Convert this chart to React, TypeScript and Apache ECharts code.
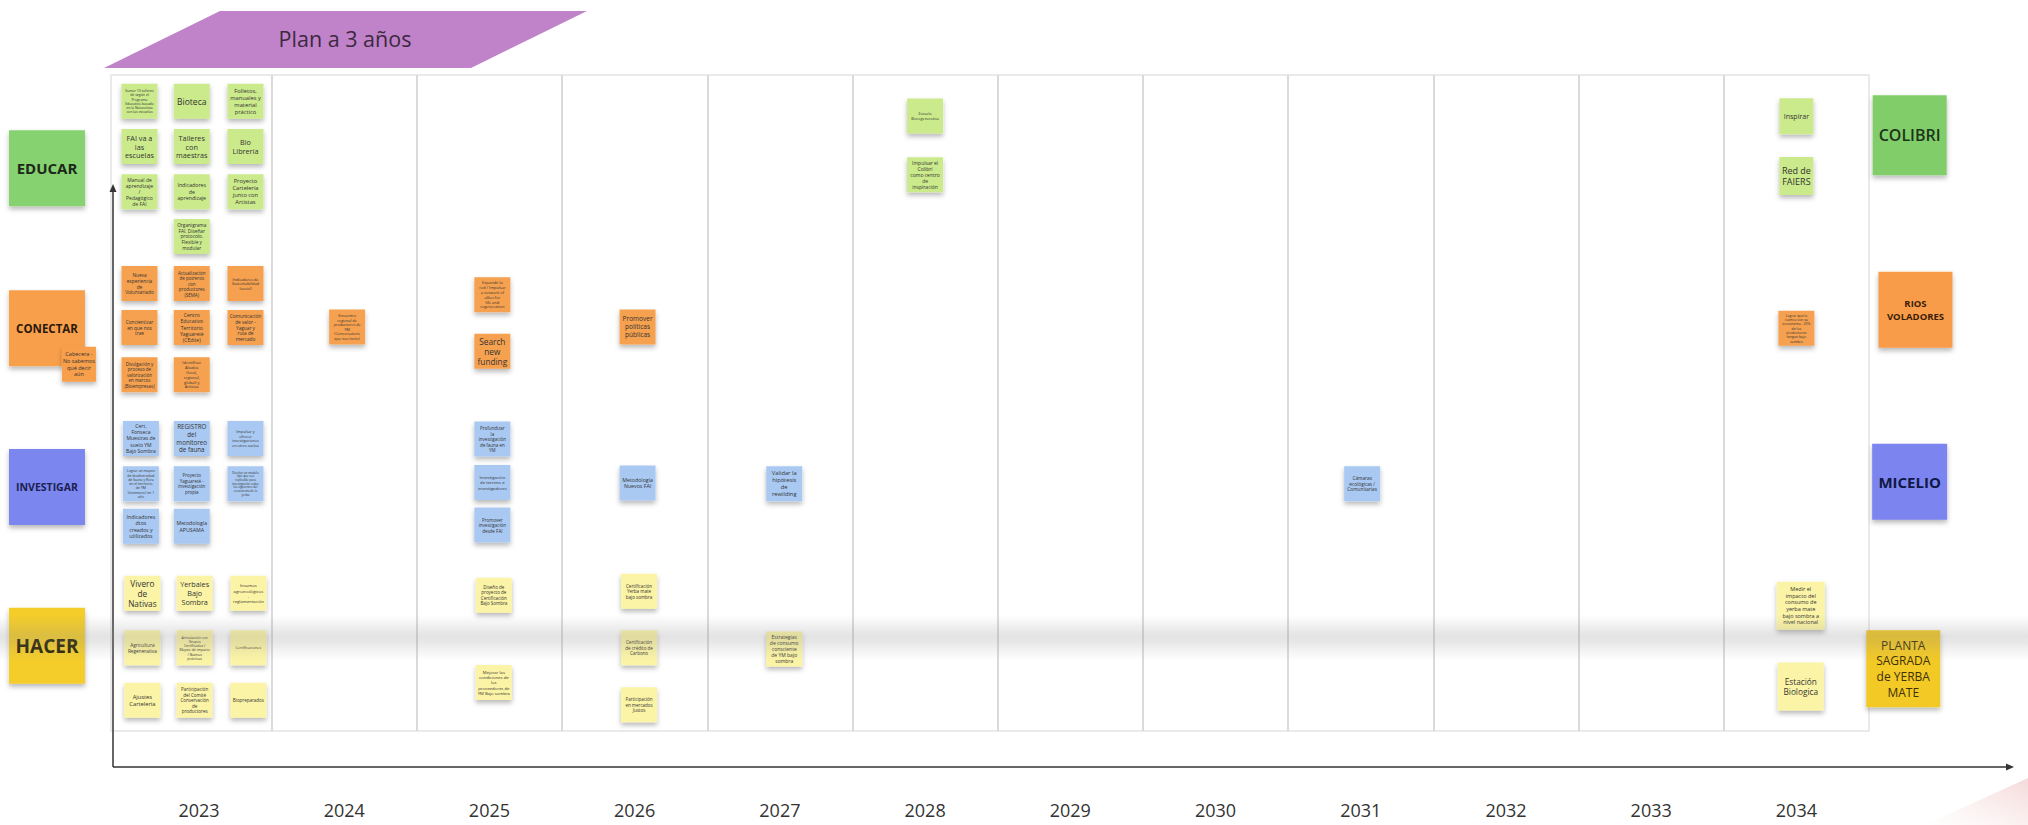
import React, { useEffect, useRef } from "react";
import * as echarts from "echarts";

// ---------------- DATA ----------------
const years = ["2023", "2024", "2025", "2026", "2027", "2028", "2029", "2030", "2031", "2032", "2033", "2034"];
const title = "Plan a 3 años";

const laneNames = ["EDUCAR", "CONECTAR", "INVESTIGAR", "HACER"];
const laneGoals = ["COLIBRI", "RIOS\nVOLADORES", "MICELIO", "PLANTA\nSAGRADA\nde YERBA\nMATE"];
const laneRowLeft = [14.2, 38.6, 62.8, 87.0];
const laneRowRight = [9.2, 35.8, 62.0, 90.5];
const headerNote = "Cabecera - No sabemos qué decir aún";

// [year, offset within year column, row position (0 top .. 100 bottom), text]
type Note = [number, number, number, string];

const educarNotes: Note[] = [
  [2023, -0.41, 4.0, "Sumar 10 talleres de según el Programa Educativo basado en la Naturaleza con las escuelas"],
  [2023, -0.05, 4.0, "Bioteca"],
  [2023, 0.32, 4.0, "Folletos, manuales y material práctico"],
  [2023, -0.41, 10.9, "FAI va a las escuelas"],
  [2023, -0.05, 10.9, "Talleres con maestras"],
  [2023, 0.32, 10.9, "Bio Librería"],
  [2023, -0.41, 17.8, "Manual de aprendizaje / Pedagógico de FAI"],
  [2023, -0.05, 17.8, "Indicadores de aprendizaje"],
  [2023, 0.32, 17.8, "Proyecto Cartelería junto con Artistas"],
  [2023, -0.05, 24.6, "Organigrama FAI. Diseñar protocolo. Flexible y modular"],
  [2028, 0.0, 6.25, "Escuela Bioregenerativa"],
  [2028, 0.0, 15.2, "Impulsar el Colibrí como centro de inspiración"],
  [2034, 0.0, 6.3, "Inspirar"],
  [2034, 0.0, 15.4, "Red de FAIERS"],
];

const conectarNotes: Note[] = [
  [2023, -0.41, 31.8, "Nueva experiencia de Voluntariado"],
  [2023, -0.05, 31.8, "Actualización de potreros con productores (SEMA)"],
  [2023, 0.32, 31.8, "Indicadores de Sustentabilidad (social)"],
  [2023, -0.41, 38.5, "Concientizar en que nos trae"],
  [2023, -0.05, 38.5, "Centro Educativo Territorio Yaguareté (CEdite)"],
  [2023, 0.32, 38.5, "Comunicación de valor - Yaguar y ruta de mercado"],
  [2023, -0.41, 45.7, "Divulgación y proceso de valorización en marcos (Bioempresas)"],
  [2023, -0.05, 45.7, "Identificar Aliados (local, regional, global) y Artistas"],
  [2024, 0.02, 38.4, "Encuentro regional de productores de YM (Conversatorio que nos invite)"],
  [2025, 0.02, 33.5, "Expandir la red / Impulsar a network of allies for life and regeneration"],
  [2025, 0.02, 42.1, "Search new funding"],
  [2026, 0.02, 38.4, "Promover políticas públicas"],
  [2034, 0.0, 38.6, "Lograr que la cuenca con su ecosistema - 20% de los productores tengan bajo sombra"],
];

const investigarNotes: Note[] = [
  [2023, -0.40, 55.4, "Cert. Fonseca Muestras de suelo YM Bajo Sombra"],
  [2023, -0.05, 55.4, "REGISTRO del monitoreo de fauna"],
  [2023, 0.32, 55.4, "Impulsar y ofrecer investigaciones en otros suelos"],
  [2023, -0.40, 62.3, "Lograr un mapeo de biodiversidad de fauna y flora en el territorio de YM (inventario) en 1 año"],
  [2023, -0.05, 62.3, "Proyecto Yaguareté - investigación propia"],
  [2023, 0.32, 62.3, "Diseñar un modelo tipo que sea replicable para investigación sobre los siguientes del ecosistema de la yerba"],
  [2023, -0.40, 68.8, "Indicadores dtos creados y utilizados"],
  [2023, -0.05, 68.8, "Metodología APUSAMA"],
  [2025, 0.02, 55.5, "Profundizar la investigación de fauna en YM"],
  [2025, 0.02, 62.1, "Investigación de terreno e investigadores"],
  [2025, 0.02, 68.6, "Promover investigación desde FAI"],
  [2026, 0.02, 62.2, "Metodología Nuevos FAI"],
  [2027, 0.03, 62.3, "Validar la hipótesis de rewilding"],
  [2031, 0.01, 62.3, "Cámaras ecológicas / Comunitarias"],
];

const hacerNotes: Note[] = [
  [2023, -0.39, 79.0, "Vivero de Nativas"],
  [2023, -0.03, 79.0, "Yerbales Bajo Sombra"],
  [2023, 0.34, 79.0, "Insumos agroecológicos - reglamentación"],
  [2023, -0.39, 87.3, "Agricultura Regenerativa"],
  [2023, -0.03, 87.3, "Articulación con Grupos Certificados / Mapeo de impacto / Buenas prácticas"],
  [2023, 0.34, 87.3, "Certificaciones"],
  [2023, -0.39, 95.3, "Ajustes Cartelería"],
  [2023, -0.03, 95.3, "Participación del Comité Conservación de productores"],
  [2023, 0.34, 95.3, "Biopreparados"],
  [2025, 0.03, 79.3, "Diseño de proyecto de Certificación Bajo Sombra"],
  [2025, 0.03, 92.6, "Mejorar las condiciones de los proveedores de YM Bajo sombra"],
  [2026, 0.03, 78.7, "Certificación Yerba mate bajo sombra"],
  [2026, 0.03, 87.3, "Certificación de crédito de Carbono"],
  [2026, 0.03, 96.0, "Participación en mercados Justos"],
  [2027, 0.03, 87.5, "Estrategias de consumo consciente de YM bajo sombra"],
  [2034, 0.03, 80.9, "Medir el impacto del consumo de yerba mate bajo sombra a nivel nacional"],
  [2034, 0.03, 93.2, "Estación Biologica"],
];

// ---------------- STYLE / LAYOUT ----------------
const laneNoteColors = ["#cbea8c", "#f6a14f", "#a9c9f2", "#fbf4a6"];
const laneHeadColors = ["#86d170", "#f89f4c", "#7b86ef", "#f4cd2c"];
const goalColors = ["#80cd6a", "#f89c48", "#7b85ef", "#f3c925"];
const headStyles = [
  { fs: 15, fw: "bold", fill: "#1c2818" },
  { fs: 11.5, fw: "bold", fill: "#2b180c" },
  { fs: 10.5, fw: "bold", fill: "#1b2150" },
  { fs: 19, fw: "bold", fill: "#2a2406" },
];
const goalStyles = [
  { fs: 16, fw: "600", fill: "#1d3418", w: 74, h: 80 },
  { fs: 9.5, fw: "bold", fill: "#3a1d08", w: 74, h: 76 },
  { fs: 15, fw: "bold", fill: "#0f1846", w: 75, h: 76 },
  { fs: 12, fw: "normal", fill: "#3d3008", w: 74, h: 77 },
];
const goalOffsets = [0.28, 0.32, 0.28, 0.236];
const sizeOverrides: Record<string, [number, number]> = {
  "Medir el impacto del consumo de yerba mate bajo sombra a nivel nacional": [48, 48],
  "Estación Biologica": [46, 48],
  "Inspirar": [34, 36],
  "Red de FAIERS": [34, 38],
};

const FONT = "'Open Sans', 'Noto Sans', sans-serif";

type Placed = { x: number; y: number; text: string; lane: number };
const allNotes: Placed[] = [educarNotes, conectarNotes, investigarNotes, hacerNotes].flatMap((arr, lane) =>
  arr.map(([yr, dx, row, text]) => ({ x: yr + dx, y: row, text, lane }))
);

function fitText(text: string, w: number, h: number, maxFs = 9, minFs = 2.5) {
  const aw = w * 0.88;
  const ah = h * 0.88;
  const words = text.split(/\s+/);
  let best = { text, fs: minFs };
  for (let fs = maxFs; fs >= minFs; fs -= 0.25) {
    const cw = fs * 0.53;
    const maxChars = Math.max(1, Math.floor(aw / cw));
    if (words.some((wd) => wd.length > maxChars)) continue;
    const lines: string[] = [];
    let cur = "";
    for (const wd of words) {
      const t = cur ? cur + " " + wd : wd;
      if (t.length <= maxChars) cur = t;
      else {
        lines.push(cur);
        cur = wd;
      }
    }
    if (cur) lines.push(cur);
    if (lines.length * fs * 1.22 <= ah) return { text: lines.join("\n"), fs };
    best = { text: lines.join("\n"), fs };
  }
  return best;
}

function stickyRect(cx: number, cy: number, w: number, h: number, fill: string) {
  return {
    type: "rect",
    shape: { x: cx - w / 2, y: cy - h / 2, width: w, height: h },
    style: { fill, shadowBlur: 5, shadowOffsetY: 3, shadowOffsetX: 0, shadowColor: "rgba(0,0,0,0.28)" },
  };
}

export default function App() {
  const ref = useRef<HTMLDivElement>(null);
  useEffect(() => {
    if (!ref.current) return;
    const chart = echarts.init(ref.current, undefined, { renderer: "svg" });
    const minX = 2022.5;
    const maxX = 2034.5;

    const option: any = {
      animation: false,
      backgroundColor: "#ffffff",
      grid: { left: 126.4, right: 159, top: 75, bottom: 94, containLabel: false },
      xAxis: [
        {
          type: "category",
          data: years,
          position: "bottom",
          offset: 36,
          boundaryGap: true,
          axisLine: { show: false },
          axisTick: { show: false },
          splitLine: { show: false },
          axisLabel: { fontSize: 18, color: "#333", fontFamily: FONT, margin: 34 },
        },
        { type: "value", min: minX, max: maxX, show: false, splitLine: { show: false } },
      ],
      yAxis: { type: "value", min: 0, max: 100, inverse: true, show: false, splitLine: { show: false } },
      graphic: [
        {
          type: "rect",
          z: 0,
          shape: { x: 111, y: 75, width: 1758, height: 656 },
          style: { fill: "#ffffff", stroke: "#e4e4e4", lineWidth: 1.5 },
        },
        {
          type: "polygon",
          shape: { points: [[104, 68], [220, 11], [587, 11], [471, 68]] },
          style: { fill: "#c083c9" },
        },
        {
          type: "text",
          x: 345,
          y: 38,
          style: { text: title, fontSize: 21.5, fill: "#3b2940", fontFamily: FONT, align: "center", verticalAlign: "middle" },
        },
        { type: "line", shape: { x1: 113, y1: 767, x2: 113, y2: 190 }, style: { stroke: "#333", lineWidth: 1.5 } },
        { type: "polygon", shape: { points: [[109.5, 192], [116.5, 192], [113, 184]] }, style: { fill: "#333" } },
        { type: "line", shape: { x1: 113, y1: 767, x2: 2008, y2: 767 }, style: { stroke: "#333", lineWidth: 1.5 } },
        { type: "polygon", shape: { points: [[2006, 763.5], [2006, 770.5], [2014, 767]] }, style: { fill: "#333" } },
        {
          type: "rect",
          z: 50,
          silent: true,
          shape: { x: 0, y: 615, width: 2028, height: 46 },
          style: {
            fill: {
              type: "linear", x: 0, y: 0, x2: 0, y2: 1,
              colorStops: [
                { offset: 0, color: "rgba(140,140,140,0)" },
                { offset: 0.45, color: "rgba(140,140,140,0.24)" },
                { offset: 0.6, color: "rgba(140,140,140,0.2)" },
                { offset: 1, color: "rgba(160,160,160,0)" },
              ],
            },
          },
        },
        {
          type: "polygon",
          z: 1,
          silent: true,
          shape: { points: [[1925, 825], [2028, 778], [2028, 825]] },
          style: {
            fill: {
              type: "linear", x: 0, y: 1, x2: 1, y2: 0,
              colorStops: [
                { offset: 0, color: "rgba(235,170,170,0.0)" },
                { offset: 1, color: "rgba(215,120,120,0.28)" },
              ],
            },
          },
        },
      ],
      series: [
        {
          type: "line",
          xAxisIndex: 1,
          yAxisIndex: 0,
          data: [],
          silent: true,
          markLine: {
            silent: true,
            symbol: ["none", "none"],
            label: { show: false },
            lineStyle: { color: "#dadada", width: 2, type: "solid" },
            data: years.slice(1).map((y) => ({ xAxis: Number(y) - 0.5 })),
          },
        },
        {
          type: "custom",
          xAxisIndex: 1,
          yAxisIndex: 0,
          clip: false,
          data: allNotes.map((n) => [n.x, n.y]),
          renderItem: (params: any, api: any) => {
            const n = allNotes[params.dataIndex];
            const p = api.coord([api.value(0), api.value(1)]);
            const [w, h] = sizeOverrides[n.text] || [36, 35];
            const fit = fitText(n.text, w, h);
            return {
              type: "group",
              children: [
                stickyRect(p[0], p[1], w, h, laneNoteColors[n.lane]),
                {
                  type: "text",
                  x: p[0],
                  y: p[1],
                  style: {
                    text: fit.text,
                    fontSize: fit.fs,
                    lineHeight: fit.fs * 1.22,
                    fontFamily: FONT,
                    fill: "#333",
                    align: "center",
                    verticalAlign: "middle",
                  },
                },
              ],
            };
          },
        },
        {
          type: "custom",
          xAxisIndex: 1,
          yAxisIndex: 0,
          clip: false,
          data: [
            ...laneRowLeft.map((r, i) => [minX - 0.547, r, 0, i]),
            ...laneRowRight.map((r, i) => [maxX + goalOffsets[i], r, 1, i]),
          ],
          renderItem: (params: any, api: any) => {
            const side = api.value(2);
            const i = api.value(3);
            const p = api.coord([api.value(0), api.value(1)]);
            if (side === 0) {
              const s = headStyles[i];
              const children: any[] = [
                stickyRect(p[0], p[1], 76, 76, laneHeadColors[i]),
                {
                  type: "text",
                  x: p[0],
                  y: p[1],
                  style: { text: laneNames[i], fontSize: s.fs, fontWeight: s.fw, fill: s.fill, fontFamily: FONT, align: "center", verticalAlign: "middle" },
                },
              ];
              if (i === 1) {
                const fit = fitText(headerNote, 34, 35);
                children.push(stickyRect(p[0] + 32, p[1] + 36, 34, 35, laneHeadColors[i]));
                children.push({
                  type: "text",
                  x: p[0] + 32,
                  y: p[1] + 36,
                  style: { text: fit.text, fontSize: fit.fs, lineHeight: fit.fs * 1.22, fill: "#333", fontFamily: FONT, align: "center", verticalAlign: "middle" },
                });
              }
              return { type: "group", children };
            }
            const g = goalStyles[i];
            return {
              type: "group",
              children: [
                stickyRect(p[0], p[1], g.w, g.h, goalColors[i]),
                {
                  type: "text",
                  x: p[0],
                  y: p[1],
                  style: {
                    text: laneGoals[i],
                    fontSize: g.fs,
                    fontWeight: g.fw,
                    lineHeight: g.fs * 1.3,
                    fill: g.fill,
                    fontFamily: FONT,
                    align: "center",
                    verticalAlign: "middle",
                  },
                },
              ],
            };
          },
        },
      ],
    };
    chart.setOption(option);
    return () => chart.dispose();
  }, []);
  return <div ref={ref} style={{ position: "fixed", left: 0, top: 0, width: 2028, height: 825 }} />;
}
